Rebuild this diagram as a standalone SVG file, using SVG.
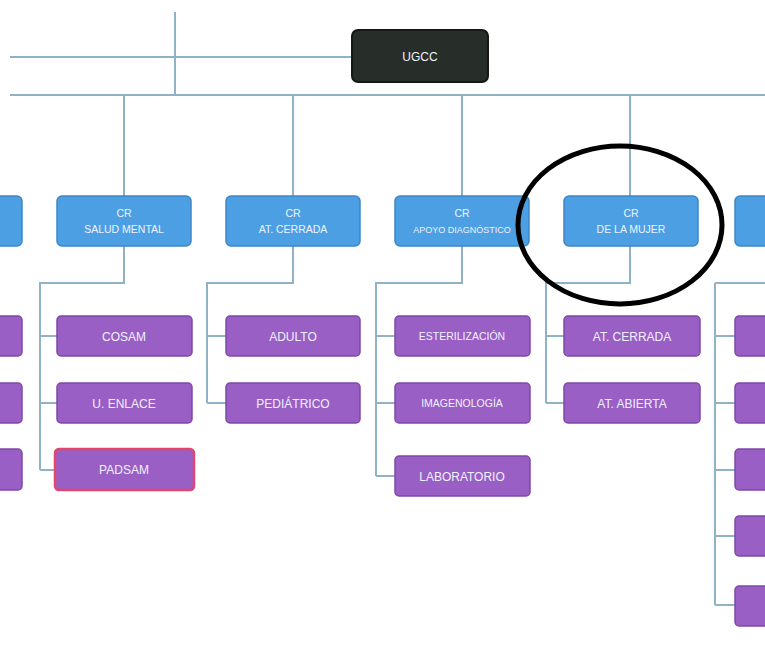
<svg xmlns="http://www.w3.org/2000/svg" width="765" height="650" viewBox="0 0 765 650">
<style>
.ln{stroke:#8fb3c4;stroke-width:2;fill:none}
.blue rect{fill:#4d9fe3;stroke:#3f86c6;stroke-width:1.5}
.pur rect{fill:#9a5fc4;stroke:#7e4aa6;stroke-width:1.5}
.t{font-family:"Liberation Sans",Arial,sans-serif;fill:#eef2ff;font-size:12px;text-anchor:middle}
.ts{font-size:10.5px}
</style>
<rect width="765" height="650" fill="#ffffff"/>
<g id="connectors">
<path class="ln" d="M175 12V95M10 57H352M10 95H765"/>
<path class="ln" d="M124 95V196M293 95V196M462 95V196M630 95V196"/>
<path class="ln" d="M124 246V283H40V470M40 336H57M40 403H57M40 470H57"/>
<path class="ln" d="M293 246V283H207V403M207 336H226M207 403H226"/>
<path class="ln" d="M462 246V283H376V476M376 336H395M376 403H395M376 476H395"/>
<path class="ln" d="M630 246V283H546V403M546 336H564M546 403H564"/>
<path class="ln" d="M715 283H765M715 283V605M715 336H735M715 403H735M715 470H735M715 536H735M715 605H735"/>
</g>
<g id="ugcc"><rect x="352" y="30" width="136" height="52" rx="6" fill="#272d28" stroke="#151815" stroke-width="2"/><text class="t" x="420" y="61" fill="#e8e8e8">UGCC</text></g>
<g id="cr0" class="blue"><rect x="-10" y="196" width="32" height="50" rx="5"/></g>
<g id="cr1" class="blue"><rect x="57" y="196" width="134" height="50" rx="5"/><text class="t ts" x="124" y="217">CR</text><text class="t ts" x="124" y="233">SALUD MENTAL</text></g>
<g id="cr2" class="blue"><rect x="226" y="196" width="134" height="50" rx="5"/><text class="t ts" x="293" y="217">CR</text><text class="t ts" x="293" y="233">AT. CERRADA</text></g>
<g id="cr3" class="blue"><rect x="395" y="196" width="134" height="50" rx="5"/><text class="t ts" x="462" y="217">CR</text><text class="t" x="462" y="233" style="font-size:9px">APOYO DIAGNÓSTICO</text></g>
<g id="cr4" class="blue"><rect x="564" y="196" width="134" height="50" rx="5"/><text class="t ts" x="631" y="217">CR</text><text class="t ts" x="631" y="233">DE LA MUJER</text></g>
<g id="cr5" class="blue"><rect x="735" y="196" width="40" height="50" rx="5"/></g>
<g id="l1" class="pur"><rect x="-10" y="316" width="32" height="40" rx="4"/></g>
<g id="l2" class="pur"><rect x="-10" y="383" width="32" height="40" rx="4"/></g>
<g id="l3" class="pur"><rect x="-10" y="449" width="32" height="41" rx="4"/></g>
<g id="cosam" class="pur"><rect x="57" y="316" width="135" height="40" rx="4"/><text class="t" x="124" y="341">COSAM</text></g>
<g id="enlace" class="pur"><rect x="57" y="383" width="135" height="40" rx="4"/><text class="t" x="124" y="408">U. ENLACE</text></g>
<g id="padsam" class="pur"><rect x="55" y="449" width="139" height="41" rx="4" style="stroke:#e2466c;stroke-width:2.5"/><text class="t" x="124" y="474">PADSAM</text></g>
<g id="adulto" class="pur"><rect x="226" y="316" width="134" height="40" rx="4"/><text class="t" x="293" y="341">ADULTO</text></g>
<g id="pediatrico" class="pur"><rect x="226" y="383" width="134" height="40" rx="4"/><text class="t" x="293" y="408">PEDIÁTRICO</text></g>
<g id="ester" class="pur"><rect x="395" y="316" width="135" height="40" rx="4"/><text class="t ts" x="462" y="340">ESTERILIZACIÓN</text></g>
<g id="imagen" class="pur"><rect x="395" y="383" width="135" height="40" rx="4"/><text class="t ts" x="462" y="407">IMAGENOLOGÍA</text></g>
<g id="lab" class="pur"><rect x="395" y="456" width="135" height="40" rx="4"/><text class="t" x="462" y="481">LABORATORIO</text></g>
<g id="atcerrada" class="pur"><rect x="564" y="316" width="136" height="40" rx="4"/><text class="t" x="632" y="341">AT. CERRADA</text></g>
<g id="atabierta" class="pur"><rect x="564" y="383" width="136" height="40" rx="4"/><text class="t" x="632" y="408">AT. ABIERTA</text></g>
<g id="r1" class="pur"><rect x="735" y="316" width="40" height="40" rx="4"/></g>
<g id="r2" class="pur"><rect x="735" y="383" width="40" height="40" rx="4"/></g>
<g id="r3" class="pur"><rect x="735" y="449" width="40" height="41" rx="4"/></g>
<g id="r4" class="pur"><rect x="735" y="516" width="40" height="40" rx="4"/></g>
<g id="r5" class="pur"><rect x="735" y="586" width="40" height="40" rx="4"/></g>
<g id="circle"><ellipse cx="620" cy="225" rx="102" ry="79" fill="none" stroke="#000" stroke-width="5"/></g>
</svg>
